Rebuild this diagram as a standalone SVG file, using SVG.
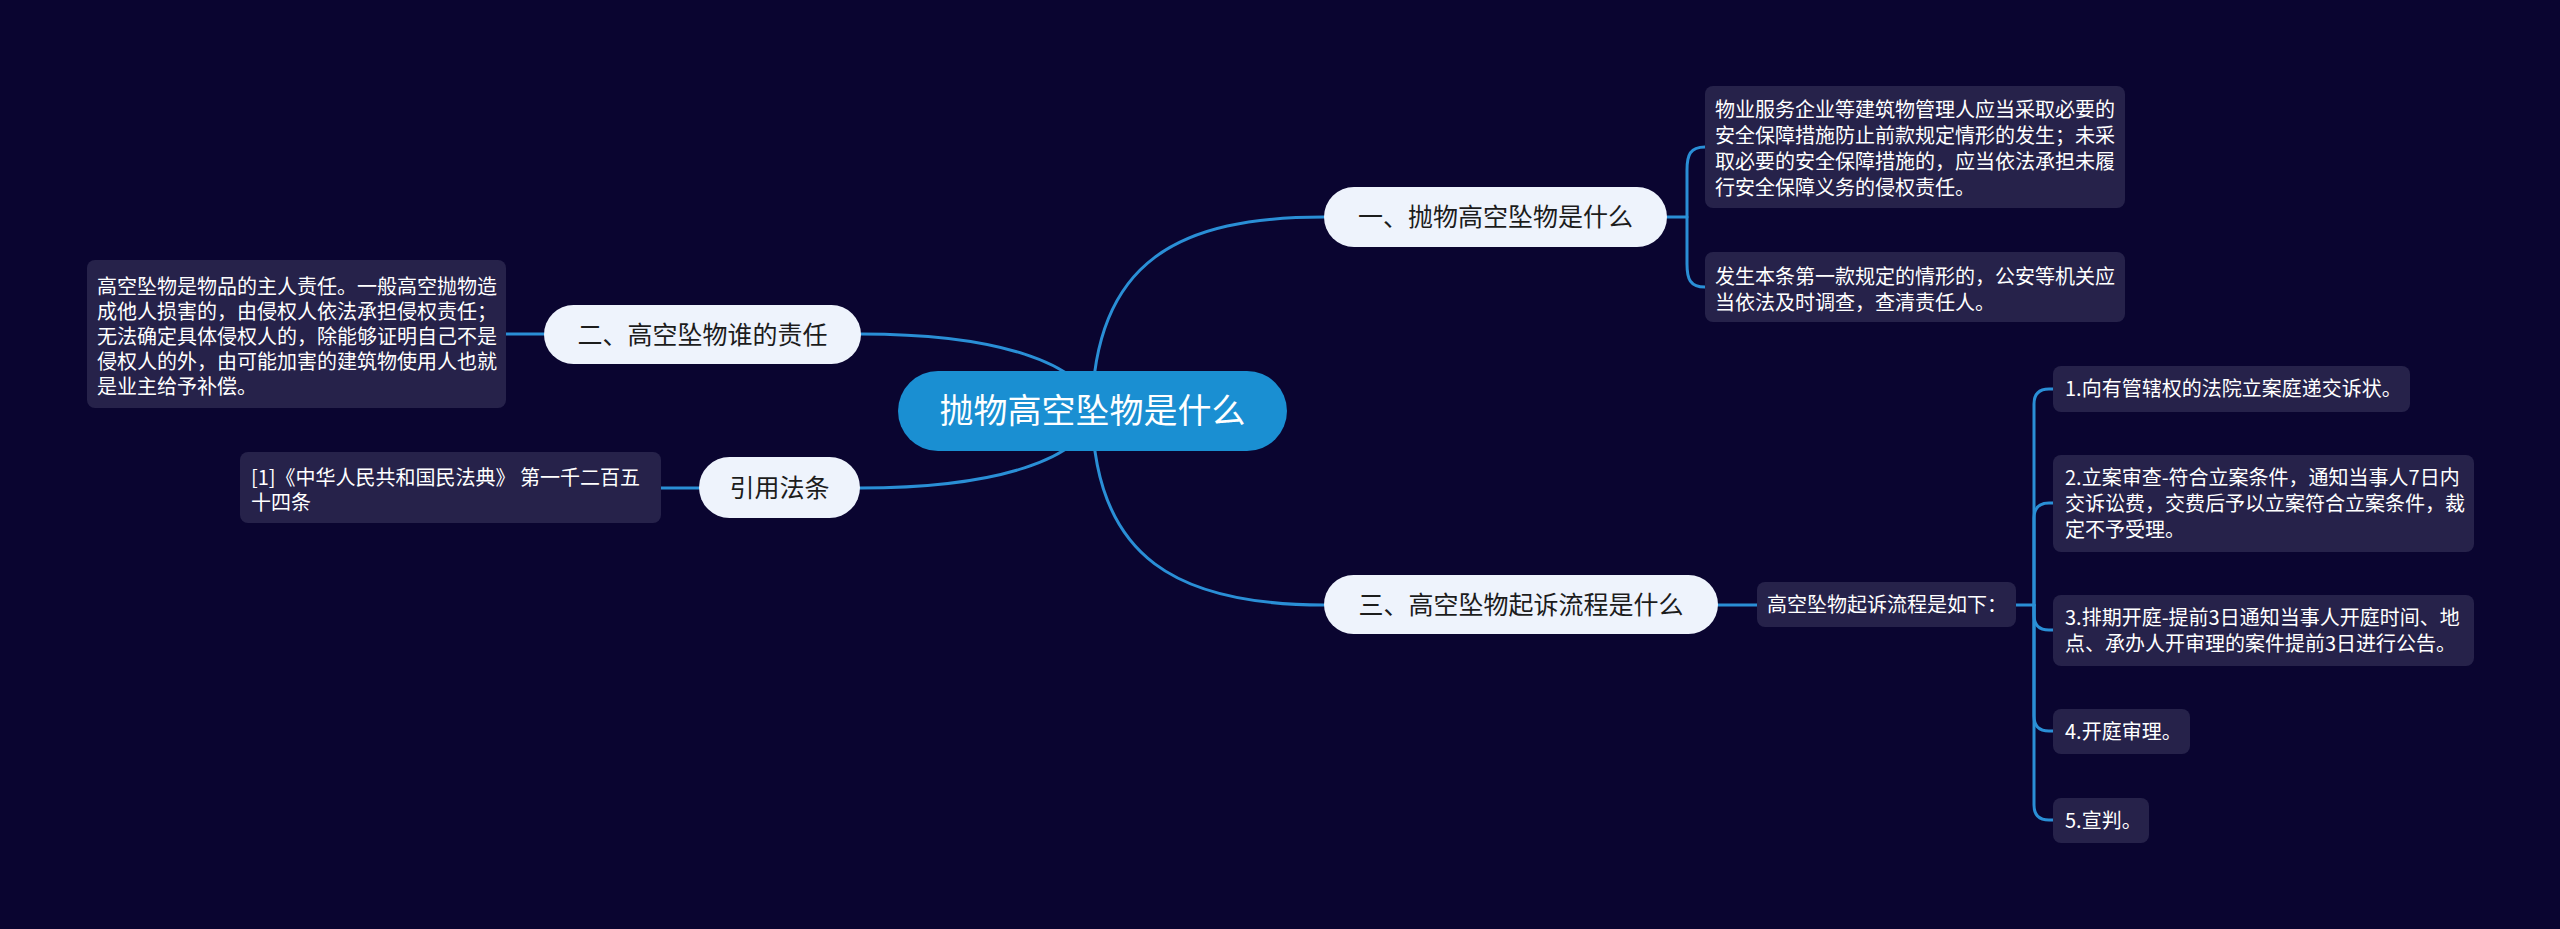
<svg xmlns="http://www.w3.org/2000/svg" width="2560" height="929" viewBox="0 0 2560 929">
<style>
.bg{fill:#0a0530}
.ln{fill:none;stroke:#2a8fd6;stroke-width:3;stroke-linecap:round}
.root{fill:#1a8fd2}
.br{fill:#eef3fc}
.tb{fill:#26224a}
text{font-family:"Noto Sans CJK SC","Noto Sans",sans-serif}
.rt{fill:#ffffff;font-size:34px;text-anchor:middle}
.bt{fill:#1c1c1c;font-size:25px;text-anchor:middle}
.tt{fill:#ffffff;font-size:20px}
</style>
<rect class="bg" x="0" y="0" width="2560" height="929"/>
<g id="connectors">
<path class="ln" d="M 1092 411 C 1094 260 1180 217 1324 217"/>
<path class="ln" d="M 1092 411 C 1094 560 1180 605 1324 605"/>
<path class="ln" d="M 1095 411 C 1085 362 995 334 861 334"/>
<path class="ln" d="M 1095 411 C 1085 460 995 488 860 488"/>
<path class="ln" d="M 1667 217 H 1687"/>
<path class="ln" d="M 1705 147 C 1690 147 1687 155 1687 170 V 264 C 1687 279 1690 287 1705 287"/>
<path class="ln" d="M 544 334 H 506"/>
<path class="ln" d="M 699 488 H 661"/>
<path class="ln" d="M 1718 605 H 1757"/>
<path class="ln" d="M 2016 605 H 2034"/>
<path class="ln" d="M 2034 605 V 404 Q 2034 389 2049 389 H 2053"/>
<path class="ln" d="M 2034 605 V 518 Q 2034 503 2049 503 H 2053"/>
<path class="ln" d="M 2034 605 V 615 Q 2034 630 2049 630 H 2053"/>
<path class="ln" d="M 2034 605 V 716 Q 2034 731 2049 731 H 2053"/>
<path class="ln" d="M 2034 605 V 805 Q 2034 820 2049 820 H 2053"/>
</g>
<g id="root">
<rect class="root" x="898" y="371" width="389" height="80" rx="40"/>
<text class="rt" x="1092.5" y="423">抛物高空坠物是什么</text>
</g>
<g id="b1">
<rect class="br" x="1324" y="187" width="343" height="60" rx="30"/>
<text class="bt" x="1495.5" y="226">一、抛物高空坠物是什么</text>
</g>
<g id="b1a">
<rect class="tb" x="1705" y="86" width="420" height="122" rx="8"/>
<text class="tt"><tspan x="1715" y="117">物业服务企业等建筑物管理人应当采取必要的</tspan><tspan x="1715" y="143">安全保障措施防止前款规定情形的发生；未采</tspan><tspan x="1715" y="169">取必要的安全保障措施的，应当依法承担未履</tspan><tspan x="1715" y="195">行安全保障义务的侵权责任。</tspan></text>
</g>
<g id="b1b">
<rect class="tb" x="1705" y="252" width="420" height="70" rx="8"/>
<text class="tt"><tspan x="1715" y="284">发生本条第一款规定的情形的，公安等机关应</tspan><tspan x="1715" y="310">当依法及时调查，查清责任人。</tspan></text>
</g>
<g id="b2">
<rect class="br" x="544" y="305" width="317" height="59" rx="29.5"/>
<text class="bt" x="702.5" y="344">二、高空坠物谁的责任</text>
</g>
<g id="b2a">
<rect class="tb" x="87" y="260" width="419" height="148" rx="8"/>
<text class="tt"><tspan x="97" y="294">高空坠物是物品的主人责任。一般高空抛物造</tspan><tspan x="97" y="319">成他人损害的，由侵权人依法承担侵权责任；</tspan><tspan x="97" y="344">无法确定具体侵权人的，除能够证明自己不是</tspan><tspan x="97" y="369">侵权人的外，由可能加害的建筑物使用人也就</tspan><tspan x="97" y="394">是业主给予补偿。</tspan></text>
</g>
<g id="bref">
<rect class="br" x="699" y="457" width="161" height="61" rx="30.5"/>
<text class="bt" x="779.5" y="497">引用法条</text>
</g>
<g id="brefa">
<rect class="tb" x="240" y="452" width="421" height="71" rx="8"/>
<text class="tt"><tspan x="251" y="485">[1]《中华人民共和国民法典》 第一千二百五</tspan><tspan x="251" y="510">十四条</tspan></text>
</g>
<g id="b3">
<rect class="br" x="1324" y="575" width="394" height="59" rx="29.5"/>
<text class="bt" x="1521" y="614">三、高空坠物起诉流程是什么</text>
</g>
<g id="b3a">
<rect class="tb" x="1757" y="582" width="259" height="45" rx="8"/>
<text class="tt" x="1767" y="611.5">高空坠物起诉流程是如下：</text>
</g>
<g id="s1">
<rect class="tb" x="2053" y="366" width="357" height="46" rx="8"/>
<text class="tt" x="2065" y="396">1.向有管辖权的法院立案庭递交诉状。</text>
</g>
<g id="s2">
<rect class="tb" x="2053" y="455" width="421" height="97" rx="8"/>
<text class="tt"><tspan x="2065" y="485">2.立案审查-符合立案条件，通知当事人7日内</tspan><tspan x="2065" y="511">交诉讼费，交费后予以立案符合立案条件，裁</tspan><tspan x="2065" y="537">定不予受理。</tspan></text>
</g>
<g id="s3">
<rect class="tb" x="2053" y="595" width="421" height="71" rx="8"/>
<text class="tt"><tspan x="2065" y="625">3.排期开庭-提前3日通知当事人开庭时间、地</tspan><tspan x="2065" y="651">点、承办人开审理的案件提前3日进行公告。</tspan></text>
</g>
<g id="s4">
<rect class="tb" x="2053" y="709" width="137" height="45" rx="8"/>
<text class="tt" x="2065" y="739">4.开庭审理。</text>
</g>
<g id="s5">
<rect class="tb" x="2053" y="798" width="96" height="45" rx="8"/>
<text class="tt" x="2065" y="828">5.宣判。</text>
</g>
</svg>
